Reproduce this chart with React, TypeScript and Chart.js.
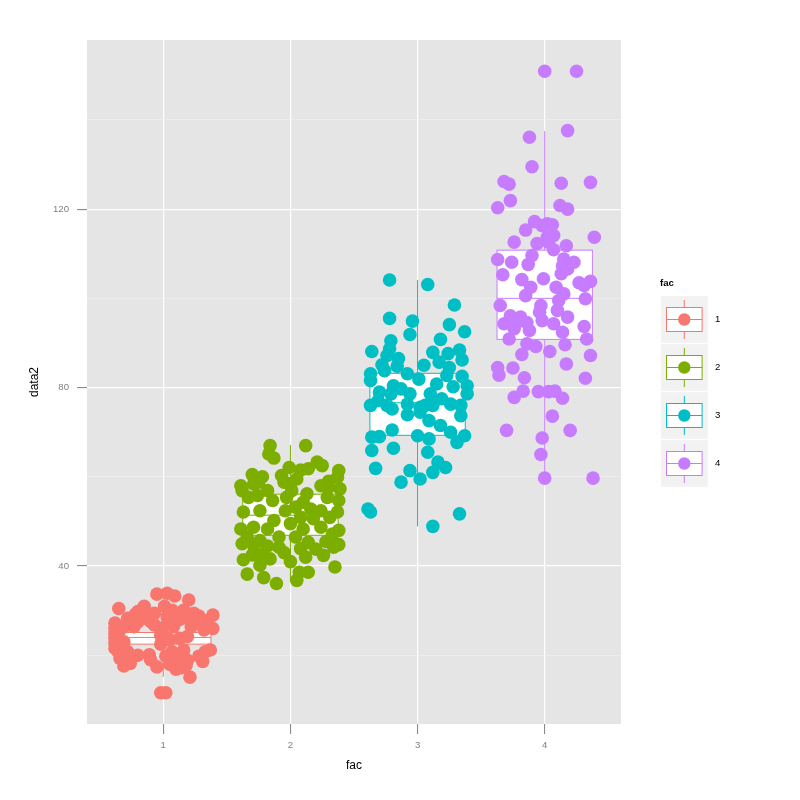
import React, { useEffect, useRef } from "react";
import { Chart, registerables } from "chart.js";
Chart.register(...registerables);

const categories = ["1", "2", "3", "4"];
const colors = ["#F8766D", "#7CAE00", "#00BFC4", "#C77CFF"];
const yMajorTicks = [40, 80, 120];
const yMinorTicks = [20, 60, 100, 140];
const xTicks = [1, 2, 3, 4];

// boxplot statistics per category
const boxLower = [15.2, 36.6, 48.9, 59.7];
const boxQ1 = [22.5, 46.9, 69.3, 90.8];
const boxMedian = [24.0, 51.4, 76.6, 100.0];
const boxQ3 = [25.1, 56.1, 83.2, 110.8];
const boxUpper = [33.9, 67.1, 104.1, 137.5];

// jittered points: horizontal jitter offset and value
const g1Offset = [-0.05, 0.03, 0.09, 0.2, -0.35, -0.15, 0.01, -0.2, -0.07, 0.07, 0.16, 0.24, 0.39, -0.38, -0.28, -0.14, 0.03, 0.15, 0.31, -0.38, -0.34, -0.23, -0.07, 0.08, 0.22, 0.39, -0.38, -0.31, -0.02, 0.19, -0.38, -0.28, -0.11, 0.07, 0.16, 0.33, 0.37, -0.34, -0.26, 0.11, 0.19, 0.31, -0.31, 0.1, 0.18, 0.21, -0.02, 0.02, -0.38, 0.32, 0.0, 0.05, -0.2, 0.28, 0.05, -0.02, 0.13, -0.3, -0.22, -0.1, 0.12, 0.22, 0.34, -0.36, -0.2, -0.1, 0.02, 0.28, 0.05, -0.05, 0.14, -0.38];
const g1Value = [33.7, 33.9, 33.3, 32.4, 30.5, 31.0, 31.0, 29.8, 29.4, 30.1, 30.1, 29.4, 29.0, 27.2, 28.3, 28.3, 28.6, 28.3, 27.5, 24.9, 25.7, 26.4, 26.8, 26.4, 26.4, 26.0, 22.7, 23.0, 24.5, 24.2, 21.6, 20.8, 20.1, 20.8, 21.2, 20.8, 21.2, 19.3, 18.2, 19.3, 18.9, 18.6, 17.6, 16.9, 17.8, 15.1, 11.6, 11.6, 23.8, 25.7, 26.2, 27.8, 27.5, 28.8, 23.5, 22.5, 23.8, 26.6, 29.2, 27.6, 27.9, 28.0, 27.8, 21.0, 20.0, 19.0, 19.8, 19.8, 18.0, 17.4, 17.2, 26.0];

const g2Offset = [-0.16, 0.12, -0.17, -0.13, -0.01, 0.14, 0.21, 0.25, 0.38, 0.37, -0.07, 0.05, -0.05, -0.39, -0.29, -0.25, -0.38, -0.18, 0.24, 0.3, 0.39, -0.33, -0.26, -0.14, 0.13, 0.1, 0.29, 0.38, -0.03, 0.01, -0.37, -0.24, -0.04, 0.04, 0.16, 0.24, 0.37, -0.13, 0.08, 0.18, 0.31, -0.39, -0.29, -0.18, 0.0, 0.1, 0.24, 0.38, -0.34, -0.24, -0.09, 0.04, 0.14, 0.33, -0.29, -0.09, 0.08, 0.34, -0.22, -0.16, 0.26, -0.37, -0.24, 0.35, -0.34, -0.21, 0.07, 0.14, -0.11, 0.05, -0.05, 0.2, -0.3, 0.0, 0.28, -0.18, 0.12, 0.38, -0.38, -0.22, 0.08, 0.3, -0.3, 0.0];
const g2Value = [67.0, 67.0, 65.1, 64.2, 62.1, 61.8, 63.3, 62.5, 61.4, 59.9, 60.3, 59.5, 58.8, 58.0, 58.4, 58.8, 56.9, 56.9, 58.0, 57.7, 57.3, 55.4, 55.8, 54.7, 56.2, 54.3, 55.4, 54.7, 55.4, 56.9, 52.1, 52.4, 52.4, 53.2, 52.8, 52.4, 52.1, 50.2, 50.9, 50.6, 50.9, 48.3, 48.7, 48.3, 49.5, 48.3, 48.7, 48.0, 46.5, 45.7, 46.5, 46.5, 45.3, 47.2, 44.7, 44.2, 43.9, 44.2, 42.7, 41.6, 42.4, 41.4, 40.2, 39.8, 38.2, 37.4, 38.6, 38.6, 36.1, 36.8, 43.0, 43.8, 42.5, 41.0, 45.5, 44.5, 42.0, 44.8, 45.0, 60.0, 61.5, 59.0, 60.5, 58.5];

const g3Offset = [-0.22, 0.08, 0.29, -0.22, -0.04, -0.06, 0.25, 0.37, -0.21, 0.18, -0.36, -0.22, -0.24, 0.12, 0.24, 0.33, 0.35, 0.17, 0.25, 0.23, -0.28, -0.16, -0.26, -0.37, -0.37, -0.08, 0.01, 0.15, 0.28, 0.39, -0.19, -0.13, -0.21, -0.31, -0.06, 0.1, 0.19, 0.39, -0.37, -0.24, -0.08, 0.02, 0.12, 0.26, 0.34, -0.2, -0.08, 0.02, 0.06, 0.34, 0.09, 0.18, 0.26, 0.37, 0.31, -0.2, 0.0, 0.09, -0.36, -0.3, -0.36, -0.19, 0.08, 0.16, 0.22, -0.33, -0.06, 0.02, 0.12, -0.13, -0.39, -0.37, 0.33, 0.12, -0.15, 0.05, 0.35, -0.3];
const g3Value = [104.1, 103.1, 98.5, 95.5, 94.9, 91.9, 94.1, 92.5, 90.5, 90.8, 88.1, 88.7, 87.2, 87.9, 87.6, 88.4, 86.2, 85.7, 84.5, 82.7, 85.1, 84.8, 83.8, 83.1, 81.6, 83.1, 81.9, 80.8, 80.2, 80.4, 80.4, 79.7, 78.6, 77.1, 78.6, 78.6, 77.5, 78.6, 76.0, 76.0, 76.3, 75.6, 76.0, 76.3, 76.0, 75.2, 73.9, 74.5, 76.0, 73.7, 72.6, 71.5, 70.0, 69.2, 67.7, 70.5, 69.2, 68.5, 68.9, 69.0, 65.9, 66.4, 65.5, 63.3, 62.1, 61.9, 61.4, 59.5, 61.0, 58.8, 52.8, 52.1, 51.7, 48.9, 86.5, 85.0, 82.5, 79.0];

const g4Offset = [0.0, 0.25, 0.18, -0.12, -0.1, -0.32, -0.28, 0.13, 0.36, -0.27, -0.37, 0.12, 0.18, -0.08, -0.15, -0.02, 0.06, 0.02, 0.07, 0.02, -0.24, -0.06, 0.39, 0.17, 0.07, 0.03, -0.37, -0.26, -0.1, -0.13, 0.15, 0.23, 0.14, 0.18, 0.13, -0.33, -0.01, -0.18, 0.27, 0.36, 0.31, 0.09, -0.11, -0.15, 0.15, 0.11, 0.32, -0.35, -0.03, -0.04, 0.1, 0.18, -0.27, -0.19, -0.32, -0.22, -0.14, -0.24, -0.12, -0.02, 0.07, 0.14, 0.31, -0.28, 0.33, -0.14, -0.07, 0.16, -0.18, 0.04, 0.36, 0.17, -0.37, -0.36, -0.25, -0.16, 0.32, -0.17, -0.05, 0.03, 0.08, 0.14, -0.24, 0.06, -0.3, 0.2, -0.02, -0.03, 0.0, 0.38];
const g4Value = [150.9, 150.9, 137.6, 136.1, 129.5, 126.2, 125.6, 125.8, 126.0, 121.9, 120.3, 120.8, 120.0, 117.2, 115.3, 116.3, 116.5, 116.7, 114.1, 113.7, 112.6, 112.3, 113.7, 111.8, 110.9, 112.6, 108.7, 108.1, 109.6, 107.6, 108.8, 108.1, 107.3, 106.6, 105.5, 105.3, 104.4, 104.2, 103.5, 103.8, 102.9, 102.5, 102.5, 100.6, 101.0, 99.5, 99.9, 98.4, 98.4, 96.9, 97.3, 95.8, 96.1, 95.8, 94.3, 94.6, 94.6, 93.2, 92.8, 95.0, 94.3, 92.4, 93.7, 90.9, 90.9, 89.8, 89.2, 89.6, 87.4, 88.1, 87.2, 85.3, 84.5, 82.8, 84.4, 82.2, 82.1, 79.2, 79.1, 79.1, 79.2, 77.6, 77.8, 73.6, 70.4, 70.4, 68.7, 65.0, 59.7, 59.7];

const groupOffsets = [g1Offset, g2Offset, g3Offset, g4Offset];
const groupValues = [g1Value, g2Value, g3Value, g4Value];

const FONT = '"Liberation Sans", Arial, Helvetica, sans-serif';

const panelPlugin = {
  id: "panelBg",
  beforeDraw(chart: any) {
    const { ctx, chartArea } = chart;
    ctx.save();
    ctx.fillStyle = "#ffffff";
    ctx.fillRect(0, 0, chart.width, chart.height);
    ctx.fillStyle = "#E5E5E5";
    ctx.fillRect(chartArea.left, chartArea.top, chartArea.right - chartArea.left, chartArea.bottom - chartArea.top);
    ctx.restore();
  },
};

const boxPlugin = {
  id: "boxes",
  beforeDatasetsDraw(chart: any) {
    const { ctx } = chart;
    const xs = chart.scales.x;
    const ys = chart.scales.y;
    ctx.save();
    ctx.lineWidth = 1;
    categories.forEach((_, i) => {
      const cx = xs.getPixelForValue(i + 1);
      const half = xs.getPixelForValue(i + 1 + 0.375) - cx;
      const yLo = ys.getPixelForValue(boxLower[i]);
      const yQ1 = ys.getPixelForValue(boxQ1[i]);
      const yMed = ys.getPixelForValue(boxMedian[i]);
      const yQ3 = ys.getPixelForValue(boxQ3[i]);
      const yHi = ys.getPixelForValue(boxUpper[i]);
      ctx.strokeStyle = colors[i];
      ctx.beginPath();
      ctx.moveTo(cx, yHi);
      ctx.lineTo(cx, yQ3);
      ctx.moveTo(cx, yQ1);
      ctx.lineTo(cx, yLo);
      ctx.stroke();
      ctx.fillStyle = "#ffffff";
      ctx.fillRect(cx - half, yQ3, half * 2, yQ1 - yQ3);
      ctx.strokeRect(cx - half, yQ3, half * 2, yQ1 - yQ3);
      ctx.beginPath();
      ctx.moveTo(cx - half, yMed);
      ctx.lineTo(cx + half, yMed);
      ctx.stroke();
    });
    ctx.restore();
  },
};

const legendPlugin = {
  id: "ggLegend",
  afterDraw(chart: any) {
    const { ctx, chartArea } = chart;
    ctx.save();
    // axis titles
    ctx.fillStyle = "#000000";
    ctx.font = `12px ${FONT}`;
    ctx.textAlign = "center";
    ctx.textBaseline = "middle";
    ctx.fillText("fac", (chartArea.left + chartArea.right) / 2, 766);
    ctx.save();
    ctx.translate(35, (chartArea.top + chartArea.bottom) / 2);
    ctx.rotate(-Math.PI / 2);
    ctx.fillText("data2", 0, 0);
    ctx.restore();

    // legend
    ctx.textAlign = "left";
    ctx.font = `bold 9.6px ${FONT}`;
    ctx.fillText("fac", 660, 283);
    ctx.font = `9.6px ${FONT}`;
    categories.forEach((c, i) => {
      const cy = 319.5 + i * 48;
      const cx = 684.3;
      ctx.fillStyle = "#F2F2F2";
      ctx.fillRect(661, cy - 23.3, 46.7, 46.6);
      ctx.strokeStyle = colors[i];
      ctx.lineWidth = 1;
      ctx.beginPath();
      ctx.moveTo(cx, cy - 19.5);
      ctx.lineTo(cx, cy - 12);
      ctx.moveTo(cx, cy + 12);
      ctx.lineTo(cx, cy + 19.5);
      ctx.stroke();
      ctx.fillStyle = "#ffffff";
      ctx.fillRect(cx - 17.8, cy - 12, 35.6, 24);
      ctx.strokeRect(cx - 17.8, cy - 12, 35.6, 24);
      ctx.beginPath();
      ctx.moveTo(cx - 17.8, cy);
      ctx.lineTo(cx + 17.8, cy);
      ctx.stroke();
      ctx.fillStyle = colors[i];
      ctx.beginPath();
      ctx.arc(cx, cy, 6.2, 0, Math.PI * 2);
      ctx.fill();
      ctx.fillStyle = "#000000";
      ctx.fillText(c, 715, cy);
    });
    ctx.restore();
  },
};

export default function App() {
  const ref = useRef<HTMLCanvasElement>(null);
  useEffect(() => {
    if (!ref.current) return;
    const datasets = categories.map((c, i) => ({
      label: c,
      data: groupValues[i].map((v, k) => ({ x: i + 1 + groupOffsets[i][k], y: v })),
      backgroundColor: colors[i],
      borderWidth: 0,
      pointRadius: 6.8,
      pointHoverRadius: 6.8,
    }));
    const chart = new Chart(ref.current, {
      type: "scatter",
      data: { datasets },
      options: {
        animation: false,
        responsive: false,
        layout: { padding: { left: 0, right: 179, top: 40, bottom: 0 } },
        plugins: { legend: { display: false }, tooltip: { enabled: false } },
        scales: {
          x: {
            type: "linear",
            min: 0.4,
            max: 4.6,
            afterBuildTicks: (s: any) => {
              s.ticks = xTicks.map((v) => ({ value: v }));
            },
            afterFit: (s: any) => {
              s.height = 76;
            },
            border: { display: false },
            grid: {
              color: "#ffffff",
              lineWidth: 1.2,
              drawTicks: true,
              tickLength: 10,
              tickColor: "#7F7F7F",
              tickWidth: 1,
            },
            ticks: {
              padding: 6,
              color: "#7F7F7F",
              font: { family: FONT, size: 9.6 },
              maxRotation: 0,
              autoSkip: false,
              callback: (v: any) => categories[Number(v) - 1] ?? "",
            },
          },
          y: {
            type: "linear",
            min: 4.6,
            max: 157.9,
            afterBuildTicks: (s: any) => {
              s.ticks = [...yMinorTicks, ...yMajorTicks].sort((a, b) => a - b).map((v) => ({ value: v }));
            },
            afterFit: (s: any) => {
              s.width = 87;
            },
            border: { display: false },
            grid: {
              color: (ctx: any) => (yMajorTicks.includes(ctx.tick?.value) ? "#ffffff" : "#F2F2F2"),
              lineWidth: (ctx: any) => (yMajorTicks.includes(ctx.tick?.value) ? 1.2 : 0.6),
              drawTicks: true,
              tickLength: 10,
              tickColor: (ctx: any) => (yMajorTicks.includes(ctx.tick?.value) ? "#7F7F7F" : "rgba(0,0,0,0)"),
              tickWidth: 1,
            },
            ticks: {
              padding: 8,
              color: "#7F7F7F",
              font: { family: FONT, size: 9.6 },
              autoSkip: false,
              callback: (v: any) => (yMajorTicks.includes(Number(v)) ? String(v) : ""),
            },
          },
        },
      },
      plugins: [panelPlugin, boxPlugin, legendPlugin],
    });
    return () => chart.destroy();
  }, []);
  return (
    <div style={{ position: "fixed", left: 0, top: 0, width: 800, height: 800, background: "#fff" }}>
      <canvas ref={ref} width={800} height={800} style={{ display: "block", width: 800, height: 800 }} />
    </div>
  );
}
